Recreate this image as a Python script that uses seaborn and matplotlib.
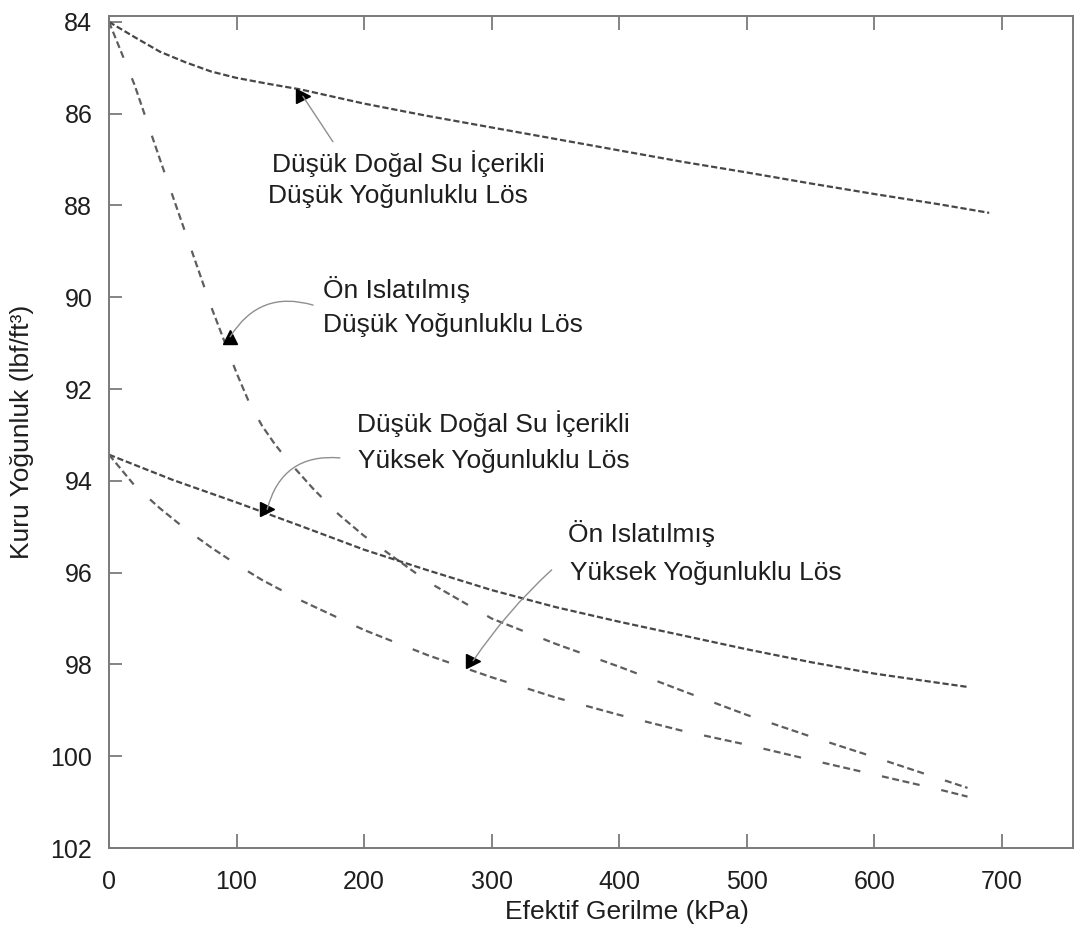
import matplotlib
matplotlib.use("Agg")
import matplotlib.pyplot as plt
import pandas as pd
import seaborn as sns

# Effective stress (kPa) and dry density (lbf/ft3) for the four loess curves
stress_low_natural = [0, 20, 40, 60, 80, 100, 125, 150, 200, 250, 300, 350, 400,
                      450, 500, 550, 600, 650, 690]
density_low_natural = [84.0, 84.33, 84.65, 84.88, 85.08, 85.22, 85.35, 85.47, 85.78,
                       86.05, 86.3, 86.55, 86.8, 87.05, 87.28, 87.52, 87.75, 87.97, 88.16]

stress_low_wetted = [0, 20, 40, 60, 80, 100, 110, 120, 130, 140, 160, 180, 200, 250,
                     300, 350, 400, 450, 500, 550, 600, 650, 673]
density_low_wetted = [84.0, 85.37, 87.0, 88.6, 90.2, 91.65, 92.3, 92.8, 93.2, 93.55,
                      94.17, 94.73, 95.2, 96.2, 97.0, 97.55, 98.05, 98.58, 99.1, 99.57,
                      100.02, 100.48, 100.69]

stress_high_natural = [0, 50, 100, 150, 200, 250, 300, 350, 400, 450, 500, 550, 600,
                       650, 673]
density_high_natural = [93.43, 93.98, 94.47, 94.98, 95.5, 95.95, 96.38, 96.75, 97.07,
                        97.37, 97.67, 97.95, 98.2, 98.4, 98.49]

stress_high_wetted = [0, 20, 40, 60, 80, 100, 120, 150, 200, 250, 300, 350, 400, 450,
                      500, 550, 600, 650, 673]
density_high_wetted = [93.43, 94.1, 94.6, 95.05, 95.45, 95.82, 96.16, 96.6, 97.25, 97.8,
                       98.28, 98.72, 99.1, 99.45, 99.75, 100.08, 100.4, 100.72, 100.88]

series_names = ["low_natural", "low_wetted", "high_natural", "high_wetted"]

# Callout texts (two lines each), text anchors, arrow tips
callout_lines = [
    ("Düşük Doğal Su İçerikli", "Düşük Yoğunluklu Lös"),
    ("Ön Islatılmış", "Düşük Yoğunluklu Lös"),
    ("Düşük Doğal Su İçerikli", "Yüksek Yoğunluklu Lös"),
    ("Ön Islatılmış", "Yüksek Yoğunluklu Lös"),
]
callout_text_xy = [
    ((127.8, 87.27), (124.6, 87.94)),
    ((167.7, 90.01), (167.7, 90.75)),
    ((194.4, 92.93), (195.2, 93.71)),
    ((359.8, 95.34), (361.4, 96.15)),
]
callout_start = [(175.5, 86.61), (160.0, 90.17), (181.0, 93.50), (347.0, 95.94)]
callout_tip = [(152.0, 85.62), (95.0, 90.86), (124.0, 94.62), (285.5, 97.92)]
callout_marker = [">", "^", ">", ">"]
callout_rad = [0.0, 0.38, 0.42, 0.06]

frames = []
for name, xs, ys in [
    ("low_natural", stress_low_natural, density_low_natural),
    ("low_wetted", stress_low_wetted, density_low_wetted),
    ("high_natural", stress_high_natural, density_high_natural),
    ("high_wetted", stress_high_wetted, density_high_wetted),
]:
    frames.append(pd.DataFrame({"stress": xs, "density": ys, "series": name}))
df = pd.concat(frames, ignore_index=True)

sns.set_theme(style="white")
plt.rcParams["font.family"] = ["Liberation Sans", "DejaVu Sans"]
plt.rcParams["lines.scale_dashes"] = False

fig = plt.figure(figsize=(10.77, 9.33), dpi=100)
ax = fig.add_axes([0.1012, 0.0911, 0.8951, 0.8918])

fine = (4.5, 2.0)
grouped = (5.0, 2.6, 5.0, 2.6, 5.0, 2.6, 5.0, 16.0)
sns.lineplot(
    data=df, x="stress", y="density", hue="series", style="series",
    hue_order=series_names, style_order=series_names,
    palette={"low_natural": "#474747", "low_wetted": "#5e5e5e",
             "high_natural": "#474747", "high_wetted": "#5e5e5e"},
    dashes={"low_natural": fine, "low_wetted": grouped,
            "high_natural": fine, "high_wetted": grouped},
    estimator=None, sort=False, legend=False, linewidth=1.6, ax=ax,
)

text_kw = dict(fontsize=19, color="#1e1e1e", ha="left", va="baseline")
for lines, pos, start, tip, mk, rad in zip(callout_lines, callout_text_xy,
                                           callout_start, callout_tip,
                                           callout_marker, callout_rad):
    for line, (tx, ty) in zip(lines, pos):
        ax.text(tx, ty, line, **text_kw)
    ax.annotate("", xy=tip, xytext=start,
                arrowprops=dict(arrowstyle="-", color="#8f8f8f", lw=1.0,
                                shrinkA=0, shrinkB=0,
                                connectionstyle=f"arc3,rad={rad}"))
    ax.plot([tip[0]], [tip[1]], marker=mk, markersize=10, color="black",
            linestyle="none")

ax.set_xlim(0, 755.7)
ax.set_ylim(102, 83.87)
ax.set_xticks(range(0, 800, 100))
ax.set_yticks(range(84, 104, 2))

ax.tick_params(axis="x", which="both", direction="in", length=10, width=1.2,
               color="#707070", top=True, bottom=True, pad=16, labelsize=18,
               labelcolor="#1e1e1e")
ax.tick_params(axis="y", which="both", direction="in", length=9, width=1.2,
               color="#707070", left=True, right=False, pad=12, labelsize=18,
               labelcolor="#1e1e1e")
for side in ["left", "right", "top", "bottom"]:
    ax.spines[side].set_color("#7a7a7a")
    ax.spines[side].set_linewidth(1.4)

ax.set_xlabel("Efektif Gerilme (kPa)", fontsize=19, color="#1e1e1e")
ax.set_ylabel("Kuru Yoğunluk (lbf/ft³)", fontsize=19, color="#1e1e1e")
ax.xaxis.set_label_coords(0.537, -0.062)
ax.yaxis.set_label_coords(-0.078, 0.5)

fig.savefig("out.png", dpi=100, facecolor="white")
